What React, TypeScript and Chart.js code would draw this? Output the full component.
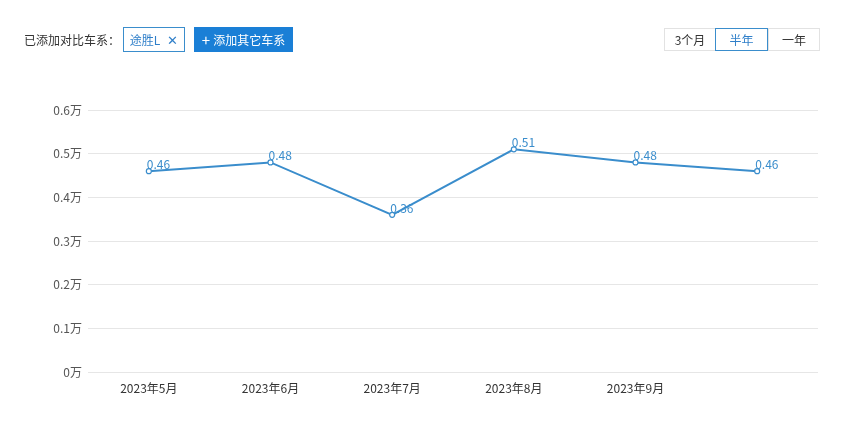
import React, { useEffect, useRef } from "react";
import { Chart, registerables } from "chart.js";

Chart.register(...registerables);

const categories = ["2023年5月", "2023年6月", "2023年7月", "2023年8月", "2023年9月", ""];
const salesValues = [0.46, 0.48, 0.36, 0.51, 0.48, 0.46];
const yTicks = [0, 0.1, 0.2, 0.3, 0.4, 0.5, 0.6];
const seriesName = "途胜L";
const periodOptions = ["3个月", "半年", "一年"];

const FONT = "'Noto Sans CJK SC', 'Microsoft YaHei', sans-serif";
const LINE = "#3a8dcc";

const labelPlugin = {
  id: "pointLabels",
  afterDatasetsDraw(chart: any) {
    const ctx = chart.ctx;
    const meta = chart.getDatasetMeta(0);
    ctx.save();
    ctx.font = `12px ${FONT}`;
    ctx.fillStyle = "#3a8dcc";
    ctx.textAlign = "left";
    ctx.textBaseline = "alphabetic";
    meta.data.forEach((pt: any, i: number) => {
      ctx.fillText(String(salesValues[i]), pt.x - 2, pt.y - 2);
    });
    ctx.restore();
  },
};

export default function App() {
  const ref = useRef<HTMLCanvasElement | null>(null);
  useEffect(() => {
    document.body.style.margin = "0";
    const chart = new Chart(ref.current as HTMLCanvasElement, {
      type: "line",
      data: {
        labels: categories,
        datasets: [
          {
            label: seriesName,
            data: salesValues,
            borderColor: LINE,
            borderWidth: 2,
            pointRadius: 2.5,
            pointBorderWidth: 1.2,
            pointBackgroundColor: "#ffffff",
            pointBorderColor: LINE,
            tension: 0,
          },
        ],
      },
      options: {
        animation: false,
        responsive: false,
        maintainAspectRatio: false,
        layout: { padding: { top: 110, right: 34, left: 1, bottom: 0 } },
        plugins: { legend: { display: false }, tooltip: { enabled: false } },
        scales: {
          x: {
            offset: true,
            grid: { display: false, drawTicks: false },
            border: { display: false },
            ticks: {
              color: "#333",
              font: { family: FONT, size: 12 },
              padding: 9,
              maxRotation: 0,
              autoSkip: false,
            },
            afterFit: (axis: any) => {
              axis.height = 55;
            },
          },
          y: {
            min: 0,
            max: 0.6,
            afterBuildTicks: (axis: any) => {
              axis.ticks = yTicks.map((v) => ({ value: v }));
            },
            grid: { color: "#e6e6e6", drawTicks: false, lineWidth: 1 },
            border: { display: false },
            ticks: {
              color: "#555",
              font: { family: FONT, size: 12 },
              padding: 6,
              callback: (v: any) => `${Number(v)}万`,
            },
            afterFit: (axis: any) => {
              axis.width = 87;
            },
          },
        },
      },
      plugins: [labelPlugin],
    });
    return () => chart.destroy();
  }, []);

  const btnBase: React.CSSProperties = {
    position: "absolute",
    top: 28,
    height: 23,
    boxSizing: "border-box",
    display: "flex",
    alignItems: "center",
    justifyContent: "center",
    fontSize: 12,
    fontFamily: FONT,
  };

  return (
    <div style={{ position: "absolute", left: 0, top: 0, width: 852, height: 427, background: "#fff", fontFamily: FONT, overflow: "hidden" }}>
      <canvas ref={ref} width={852} height={427} style={{ position: "absolute", left: 0, top: 0, width: 852, height: 427 }} />
      <div style={{ position: "absolute", left: 24, top: 31, fontSize: 12, color: "#333", lineHeight: "18px" }}>已添加对比车系：</div>
      <div style={{ ...btnBase, left: 123, top: 27, width: 62, height: 25, border: "1px solid #3a8dcc", color: "#2f7fc9", background: "#fff" }}>
        <span>{seriesName}</span>
        <span style={{ marginLeft: 7, fontSize: 13 }}>✕</span>
      </div>
      <div style={{ ...btnBase, left: 194, top: 27, width: 99, height: 25, background: "#1a7fd6", color: "#fff" }}>
        <span style={{ fontSize: 15, marginRight: 3, lineHeight: "15px" }}>+</span>
        <span>添加其它车系</span>
      </div>
      {periodOptions.map((p, i) => {
        const lefts = [664, 715, 768];
        const widths = [52, 53, 52];
        const active = i === 1;
        return (
          <div
            key={p}
            style={{
              ...btnBase,
              left: lefts[i],
              width: widths[i],
              border: active ? "1px solid #3a8dcc" : "1px solid #e2e2e2",
              color: active ? "#2f7fc9" : "#333",
              background: "#fff",
              zIndex: active ? 2 : 1,
            }}
          >
            {p}
          </div>
        );
      })}
    </div>
  );
}
